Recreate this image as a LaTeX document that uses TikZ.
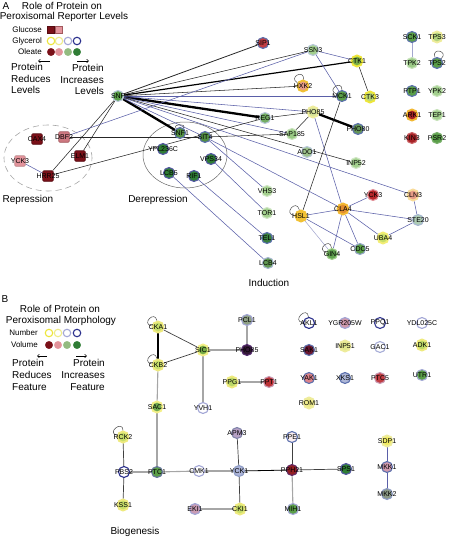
\documentclass[tikz,border=0pt]{standalone}
\usepackage{fontspec}
\setmainfont{Liberation Sans}
\usetikzlibrary{backgrounds,arrows.meta}
\definecolor{eb}{HTML}{5A5FA8}
\definecolor{dred}{HTML}{7A1018}
\definecolor{pnk}{HTML}{E3939B}
\definecolor{lgr}{HTML}{A3D08E}
\definecolor{grn}{HTML}{5A9E48}
\definecolor{dgr}{HTML}{2F7D35}
\definecolor{ylw}{HTML}{EDE63A}
\definecolor{lylw}{HTML}{EEEC9C}
\definecolor{lblu}{HTML}{A3A6D6}
\definecolor{dblu}{HTML}{2A2F8C}
\definecolor{rng}{HTML}{5E72AE}
\definecolor{pring}{HTML}{B9C9DA}
\definecolor{org}{HTML}{F2B833}
\definecolor{ygr}{HTML}{C6DE6A}
\definecolor{red}{HTML}{B8262A}
\tikzset{
  nd/.style={circle, minimum size=11pt, inner sep=0pt, line width=1.1pt},
  hl/.style={line width=1.9pt},
  sq/.style={rectangle, rounded corners=1pt, minimum size=10.5pt, inner sep=0pt, line width=0.6pt},
  lbl/.style={font=\fontsize{7}{8}\selectfont, inner sep=0pt, text=black},
  txt/.style={font=\fontsize{10}{12}\selectfont, inner sep=0pt},
  leg/.style={font=\fontsize{8}{9}\selectfont, inner sep=0pt, anchor=east},
  lc/.style={circle, minimum size=7.5pt, inner sep=0pt, line width=1.1pt},
  blk/.style={draw=black!85, line width=0.55pt},
  mdb/.style={draw=black, line width=1.2pt},
  thk/.style={draw=black, line width=2.3pt},
  blu/.style={draw=eb, line width=0.55pt},
  lblue/.style={draw=eb!55, line width=0.55pt},
  gry/.style={draw=gray!70, line width=1.1pt},
  dk/.style={draw=black!75, line width=0.7pt},
  selfloop/.style={draw=black!70, line width=0.5pt},
  legarrow/.style={draw=black, line width=0.5pt, -{Straight Barb[length=2pt,width=3.5pt]}},
}
\newcommand\nd[6][]{\node[nd,fill=#4,draw=#5,#1] (#2) at (#3) {}; \node[lbl] at (#2) {#6};}
\newcommand\sqn[5]{\node[sq,fill=#4,draw=#5] (#1) at (#2) {}; \node[lbl] at (#1) {#3};}
\begin{document}
\begin{tikzpicture}[x=1pt,y=-1pt]
\useasboundingbox (0,0) rectangle (448,538);
% ---------- Legend A ----------
\node[txt] (labA) at (6,6) {A};
\node[txt] (ttlA1) at (62,6) {Role of Protein on};
\node[txt] (ttlA2) at (64,17) {Peroxisomal Reporter Levels};
\node[leg] (glu) at (42,30) {Glucose};
\node[leg] (gly) at (42,41) {Glycerol};
\node[leg] (ole) at (42,52) {Oleate};
\node[rectangle,minimum size=7pt,inner sep=0pt,fill=dred,draw=dred!70!black,line width=0.6pt] (gs1) at (51,30) {};
\node[rectangle,minimum size=7pt,inner sep=0pt,fill=pnk,draw=dred!70,line width=0.6pt] (gs2) at (59,30) {};
\node[lc,draw=ylw,fill=white] (gc1) at (51,41) {};
\node[lc,draw=lylw!80!ylw,fill=white] (gc2) at (59,41) {};
\node[lc,draw=lblu,fill=white] (gc3) at (68,41) {};
\node[lc,draw=dblu,fill=white] (gc4) at (77,41) {};
\node[lc,draw=dred,fill=dred,line width=0.3pt] (oc1) at (51,52) {};
\node[lc,draw=pnk,fill=pnk,line width=0.3pt] (oc2) at (59,52) {};
\node[lc,draw=lgr!90!black,fill=lgr!90!black,line width=0.3pt] (oc3) at (68,52) {};
\node[lc,draw=dgr,fill=dgr,line width=0.3pt] (oc4) at (77,52) {};
\coordinate (la1) at (50,61); \coordinate (la2) at (38,61);
\coordinate (ra1) at (77,61); \coordinate (ra2) at (89,61);
\draw[legarrow] (la1) -- (la2);
\draw[legarrow] (ra1) -- (ra2);
\node[txt,anchor=west] (pl1) at (11,67) {Protein};
\node[txt,anchor=west] (pl2) at (11,79) {Reduces};
\node[txt,anchor=west] (pl3) at (11,90) {Levels};
\node[txt,anchor=east] (pr1) at (104,68) {Protein};
\node[txt,anchor=east] (pr2) at (104,80) {Increases};
\node[txt,anchor=east] (pr3) at (104,91) {Levels};
% ---------- Network A ----------
\nd{snf}{118,96}{grn}{pring}{SNF}
\nd{sipone}{263,43}{red!80!pnk}{rng}{SIP1}
\nd{ssn}{313,50}{lgr}{pring}{SSN3}
\nd[hl]{ctka}{357,61}{grn!80!ylw}{ylw}{CTK1}
\nd[hl]{hxk}{303,86}{pnk!80!org}{org!80!ylw}{HXK2}
\nd{mck}{342,96}{grn}{rng}{MCK1}
\nd[hl]{ctkc}{370,97}{lgr!70!ylw}{ylw}{CTK3}
\nd[hl]{phoA}{313,112}{lylw!70!lgr}{lylw}{PHO85}
\nd{reg}{265,118}{grn!85!white}{pring}{REG1}
\nd{sap}{292,134}{lgr!85!grn}{lgr!60!white}{SAP185}
\nd{phoe}{358,129}{grn!70!gray}{rng}{PHO80}
\nd{snfone}{180,133}{grn!90!black}{rng}{SNF1}
\nd{sit}{205,137}{grn!90!black}{rng}{SIT4}
\nd{ypl}{163,149}{dgr}{dblu!80}{YPL236C}
\nd{vps}{211,159}{dgr}{dblu!80}{VPS34}
\nd{lcbf}{169,173}{dgr}{dblu!80}{LCB5}
\nd{rif}{194,176}{dgr}{dblu!80}{RIF1}
\nd{vhs}{267,191}{lgr}{lgr!50!white}{VHS3}
\nd{tor}{267,213}{lgr}{lgr!50!white}{TOR1}
\nd{tel}{267,238}{dgr!90!gray}{rng}{TEL1}
\nd{lcbd}{268,263}{grn!80!gray}{pring!80!rng}{LCB4}
\nd{ado}{307,152}{lgr!80!gray}{pring}{ADO1}
\nd{inp}{356,163}{lgr}{lgr!50!white}{INP52}
\nd{yckI}{373,195}{red}{pnk}{YCK3}
\nd[hl]{cln}{413,195}{pnk!80!org}{org!50!white}{CLN3}
\nd[hl]{cla}{343,209}{org!70!red}{org}{CLA4}
\nd[hl]{hsl}{301,216}{org!80!ylw}{org!80!ylw}{HSL1}
\nd{ste}{418,220}{lgr!50!pring}{pring!80!rng}{STE20}
\nd[hl]{uba}{383,238}{ygr}{ylw!70!white}{UBA4}
\nd{cdc}{360,249}{grn}{pring!60!rng}{CDC5}
\nd{gin}{332,254}{grn!90!lgr}{lgr}{GIN4}
% right cluster
\nd{sck}{412,37}{grn}{rng}{SCK1}
\nd[hl]{tpsc}{437,37}{lgr!80!ylw}{lylw}{TPS3}
\nd{tpkb}{412,63}{lgr!90!grn}{lgr!60!white}{TPK2}
\nd{tpsb}{437,63}{grn}{rng}{TPS2}
\nd{ptp}{412,91}{grn}{rng}{PTP1}
\nd{ypk}{437,91}{lgr}{lgr!60!white}{YPK2}
\nd[hl]{ark}{412,115}{red!90!black}{org}{ARK1}
\nd{tep}{437,115}{lgr}{lgr!60!white}{TEP1}
\nd{kin}{412,138}{red!90!black}{red!70!white}{KIN3}
\nd{psr}{437,138}{grn}{grn!80!white}{PSR2}
% repression squares
\sqn{cax}{37,139}{CAX4}{dred}{dred!70!black}
\sqn{dbf}{64,137}{DBF2}{pnk!80!dred}{dred!70}
\sqn{elm}{80,156}{ELM1}{dred}{dred!70!black}
\sqn{yckR}{20,161}{YCK3}{pnk}{dred!50}
\sqn{hrr}{48,176}{HRR25}{dred}{dred!70!black}
\node[txt] (rep) at (28,200) {Repression};
\node[txt] (derep) at (158,200) {Derepression};
\node[txt] (induc) at (269,283) {Induction};
\begin{pgfonlayer}{background}
\draw[gray!70, line width=0.6pt, dash pattern=on 6pt off 4pt] (48,158) ellipse [x radius=44pt, y radius=33pt];
\draw[gray!80!black, line width=0.5pt] (185,155) ellipse [x radius=42pt, y radius=33pt];
\draw[blk, line width=0.8pt] (snf) -- (sipone);
\draw[blk] (snf) -- (ssn);
\draw[mdb] (snf) -- (ctka);
\draw[blk] (snf) -- (hxk);
\draw[blu] (snf) -- (mck);
\draw[thk] (snf) -- (reg);
\draw[thk] (snf) -- (snfone);
\draw[blu] (snf) -- (phoA);
\draw[blu] (snf) -- (sit);
\draw[blu] (snf) -- (sap);
\draw[blu] (snf) -- (cln);
\draw[blk] (snf) -- (inp);
\draw[blk] (snf) -- (elm);
\draw[blk] (snf) -- (hrr);
\draw[blu] (ssn) -- (dbf);
\draw[blu] (ssn) -- (ctka);
\draw[blu] (ssn) -- (mck);
\draw[blk] (ctka) -- (ctkc);
\draw[blk] (reg) -- (phoA);
\draw[blk] (phoA) -- (sap);
\draw[thk] (phoA) -- (phoe);
\draw[blu] (phoA) -- (cla);
\draw[blk] (mck) -- (hsl);
\draw[blk] (dbf) -- (sit);
\draw[blk] (hrr) -- (reg);
\draw[blu] (yckR) -- (hrr);
\draw[blk] (sit) -- (sap);
\draw[blu] (sit) -- (cla);
\draw[blu] (sit) -- (vhs);
\draw[blu] (vps) -- (tor);
\draw[blu] (rif) -- (tel);
\draw[blu] (lcbf) -- (lcbd);
\draw[blu] (hsl) -- (cla);
\draw[blu] (hsl) -- (cdc);
\draw[lblue] (hsl) -- (gin);
\draw[blu] (cla) -- (yckI);
\draw[blu] (cla) -- (ste);
\draw[blu] (cla) -- (uba);
\draw[blu] (cla) -- (cdc);
\draw[blu] (cla) -- (gin);
\draw[blu] (cln) -- (ste);
\draw[blu] (ste) -- (uba);
\draw[lblue] (sck) -- (tpkb);
\draw[selfloop] (hxk) to[out=150,in=85,min distance=11pt] (hxk);
\draw[selfloop] (mck) to[out=160,in=90,min distance=11pt] (mck);
\draw[selfloop] (snfone) to[out=130,in=55,min distance=6pt] (snfone);
\draw[selfloop] (hsl) to[out=175,in=105,min distance=12pt] (hsl);
\draw[selfloop] (gin) to[out=165,in=95,min distance=11pt] (gin);
\draw[selfloop] (tpsb) to[out=110,in=45,min distance=11pt] (tpsb);
\end{pgfonlayer}
% ---------- Legend B ----------
\node[txt] (labB) at (5,299) {B};
\node[txt] (ttlB1) at (60,309) {Role of Protein on};
\node[txt] (ttlB2) at (61,321) {Peroxisomal Morphology};
\node[leg] (num) at (38,333) {Number};
\node[leg] (vol) at (38,345) {Volume};
\node[lc,draw=ylw,fill=white] (nc1) at (49,333) {};
\node[lc,draw=lylw!80!ylw,fill=white] (nc2) at (58,333) {};
\node[lc,draw=lblu,fill=white] (nc3) at (67,333) {};
\node[lc,draw=dblu,fill=white] (nc4) at (77,333) {};
\node[lc,draw=dred,fill=dred,line width=0.3pt] (vc1) at (49,345) {};
\node[lc,draw=pnk,fill=pnk,line width=0.3pt] (vc2) at (58,345) {};
\node[lc,draw=lgr!90!black,fill=lgr!90!black,line width=0.3pt] (vc3) at (67,345) {};
\node[lc,draw=dgr,fill=dgr,line width=0.3pt] (vc4) at (77,345) {};
\coordinate (lb1) at (47,356); \coordinate (lb2) at (37,356);
\coordinate (rb1) at (76,356); \coordinate (rb2) at (87,356);
\draw[legarrow] (lb1) -- (lb2);
\draw[legarrow] (rb1) -- (rb2);
\node[txt,anchor=west] (ql1) at (12,363) {Protein};
\node[txt,anchor=west] (ql2) at (12,375) {Reduces};
\node[txt,anchor=west] (ql3) at (12,387) {Feature};
\node[txt,anchor=east] (qr1) at (105,363) {Protein};
\node[txt,anchor=east] (qr2) at (105,375) {Increases};
\node[txt,anchor=east] (qr3) at (105,387) {Feature};
% ---------- Network B ----------
\nd[hl]{cka}{158,327}{ygr}{lylw!70!ylw}{CKA1}
\nd[hl]{ckb}{158,365}{ygr}{lylw!70!ylw}{CKB2}
\nd[hl]{sic}{203,350}{grn!80!ylw}{ylw!60!white}{SIC1}
\nd{pcl}{247,320}{lgr!40!gray}{lblu}{PCL1}
\nd{phoB}{247,350}{dblu!40!black!80!red}{dblu!70!red}{PHO85}
\nd[hl]{ppg}{232,382}{ygr!90!grn}{lylw!70!ylw}{PPG1}
\nd{ppt}{269,382}{red!90!pnk}{pnk!60!lblu}{PPT1}
\nd{yvh}{203,408}{white}{lblu}{YVH1}
\nd[hl]{sac}{157,407}{grn!80!ygr}{ylw!60!white}{SAC1}
\nd[hl]{rck}{123,437}{ygr}{lylw!70!ylw}{RCK2}
\nd{pbs}{124,472}{white}{dblu}{PBS2}
\nd[hl]{kss}{123,505}{ygr}{lylw!70!ylw}{KSS1}
\nd{ptc}{157,472}{grn}{rng!70!gray}{PTC1}
\nd{cmk}{199,471}{white}{lblu}{CMK1}
\nd{yck}{239,471}{lblu!60!pring}{rng!70!white}{YCK1}
\nd{apm}{237,433}{lblu!70!pnk}{lblu!80!black}{APM3}
\nd[hl]{cki}{240,509}{ygr}{lylw!70!ylw}{CKI1}
\nd{eki}{195,509}{pnk!60!lblu}{lblu}{EKI1}
\nd{ppe}{292,437}{pnk!15!white}{rng}{PPE1}
\nd{pph}{292,470}{red!80!black}{dblu!60!red}{PPH21}
\nd{sps}{346,469}{dgr}{dblu!80}{SPS1}
\nd{mih}{293,509}{grn}{lblu}{MIH1}
\nd[hl]{sdp}{387,441}{ylw!80!white}{lylw}{SDP1}
\nd{mkka}{387,467}{pnk!70!lblu}{rng}{MKK1}
\nd{mkkb}{387,494}{lgr!30!gray}{rng!70!white}{MKK2}
\nd{akl}{309,323}{white}{dblu}{AKL1}
\nd{ygr}{345,323}{pnk!70!lblu}{lblu}{YGR205W}
\nd{ppq}{380,323}{white}{dblu!90!lblu}{PPQ1}
\nd{ydl}{422,323}{white}{lblu}{YDL025C}
\nd{sak}{309,350}{dred!80!dblu}{rng}{SAK1}
\nd[hl]{inpB}{345,346}{lylw!70!ygr}{lylw}{INP51}
\nd{gac}{380,347}{white}{lblu!80!pring}{GAC1}
\nd[hl]{adk}{422,345}{ygr!90!grn}{lylw!70!ylw}{ADK1}
\nd{yak}{309,378}{pnk!85!red}{rng}{YAK1}
\nd{xks}{345,378}{lblu!50!pring}{rng}{XKS1}
\nd{ptcf}{380,378}{red!80!pnk}{pnk!60!lblu}{PTC5}
\nd{utr}{422,375}{grn}{lblu!80!pring}{UTR1}
\nd[hl]{rom}{309,403}{lylw!80!ylw}{lylw}{ROM1}
\node[txt] (biog) at (135,532) {Biogenesis};
\begin{pgfonlayer}{background}
\draw[draw=black, line width=1.6pt] (cka) -- (ckb);
\draw[dk] (cka) -- (sic);
\draw[dk] (ckb) -- (sic);
\draw[gry] (ckb) -- (sac);
\draw[gry] (sic) -- (phoB);
\draw[gry] (pcl) -- (phoB);
\draw[gry] (sic) -- (yvh);
\draw[gry] (ppg) -- (ppt);
\draw[gry] (sac) -- (ptc);
\draw[dk] (rck) -- (pbs);
\draw[dk] (pbs) -- (kss);
\draw[gry] (pbs) -- (ptc);
\draw[gry] (ptc) -- (cmk);
\draw[gry] (cmk) -- (yck);
\draw[dk] (yck) -- (apm);
\draw[dk] (yck) -- (cki);
\draw[draw=gray!70, line width=2pt] (eki) -- (cki);
\draw[draw=black, line width=0.8pt] (yck) -- (pph);
\draw[dk] (ppe) -- (pph);
\draw[dk] (pph) -- (sps);
\draw[gry] (pph) -- (mih);
\draw[blu, line width=0.8pt] (sdp) -- (mkka);
\draw[blu, line width=0.8pt] (mkka) -- (mkkb);
\draw[selfloop] (cka) to[out=170,in=100,min distance=11pt] (cka);
\draw[selfloop] (ckb) to[out=170,in=100,min distance=11pt] (ckb);
\draw[selfloop] (rck) to[out=165,in=90,min distance=11pt] (rck);
\draw[selfloop] (akl) to[out=175,in=95,min distance=12pt] (akl);
\end{pgfonlayer}
\end{tikzpicture}
\end{document}
